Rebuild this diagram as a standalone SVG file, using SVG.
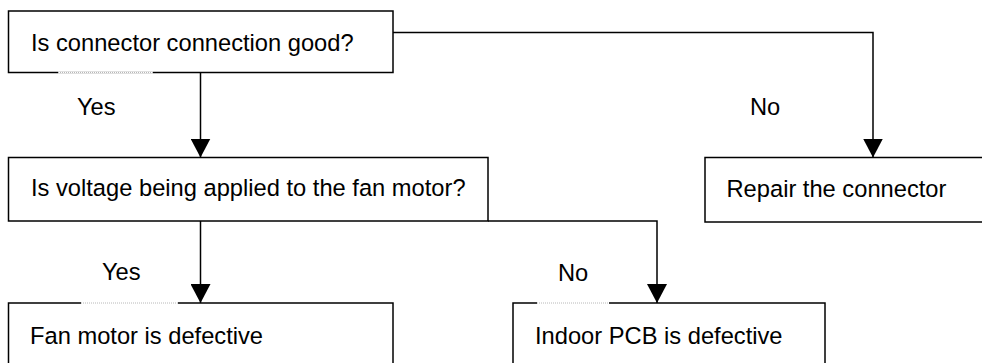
<svg xmlns="http://www.w3.org/2000/svg" width="982" height="363" viewBox="0 0 982 363">
<style>
.box{fill:#fff;stroke:#000;stroke-width:1.5}
.t{font-family:"Liberation Sans",Arial,sans-serif;font-size:23.7px;fill:#000}
.c{fill:none;stroke:#000;stroke-width:1.5}
.gapw{stroke:#fff;stroke-width:2}
.gapd{stroke:#b8b8b8;stroke-width:1;stroke-dasharray:1 1}
</style>
<defs>
<marker id="arr" markerUnits="userSpaceOnUse" markerWidth="20" markerHeight="20" refX="19" refY="10" orient="auto">
<path d="M0,0 L19,10 L0,20 z" fill="#000"/>
</marker>
</defs>
<rect width="982" height="363" fill="#fff"/>
<g id="n1">
<rect class="box" x="8.5" y="11" width="384.5" height="61.5"/>
<text class="t" x="31" y="51">Is connector connection good?</text>
</g>
<g id="n2">
<rect class="box" x="8.5" y="157.5" width="479.5" height="63.5"/>
<text class="t" x="31" y="196">Is voltage being applied to the fan motor?</text>
</g>
<g id="n3">
<rect class="box" x="705" y="157.5" width="300" height="64.5"/>
<text class="t" x="726.5" y="197">Repair the connector</text>
</g>
<g id="n4">
<rect class="box" x="8.5" y="303" width="384.5" height="90"/>
<text class="t" x="30" y="344">Fan motor is defective</text>
</g>
<g id="n5">
<rect class="box" x="513" y="303" width="312" height="90"/>
<text class="t" x="535" y="344">Indoor PCB is defective</text>
</g>
<g id="connectors">
<path class="c" d="M200.5 72.5 V157.5" marker-end="url(#arr)"/>
<path class="c" d="M393 32.5 H873 V157.5" marker-end="url(#arr)"/>
<path class="c" d="M200.5 221 V303" marker-end="url(#arr)"/>
<path class="c" d="M488 221 H657 V303" marker-end="url(#arr)"/>
<text class="t" x="77" y="115">Yes</text>
<text class="t" x="750" y="115">No</text>
<text class="t" x="102" y="280">Yes</text>
<text class="t" x="558" y="281">No</text>
</g>
<g id="label-gaps">
<line class="gapw" x1="58" y1="72.5" x2="153" y2="72.5"/>
<line class="gapd" x1="58" y1="72.5" x2="153" y2="72.5"/>
<line class="gapw" x1="81" y1="303" x2="178" y2="303"/>
<line class="gapd" x1="81" y1="303" x2="178" y2="303"/>
<line class="gapw" x1="537" y1="303" x2="609" y2="303"/>
<line class="gapd" x1="537" y1="303" x2="609" y2="303"/>
</g>
</svg>
